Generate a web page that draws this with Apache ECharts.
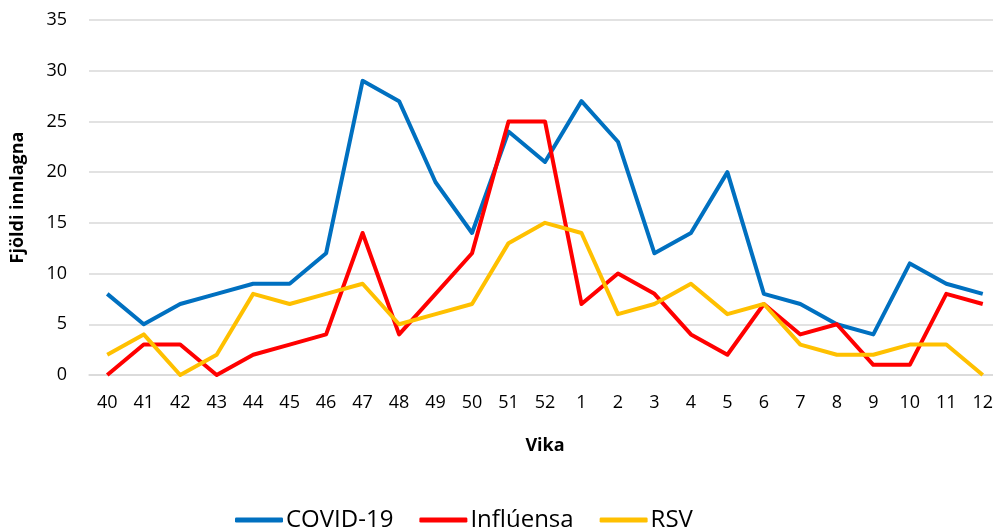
<!DOCTYPE html>
<html>
<head>
<meta charset="utf-8">
<script src="https://cdn.jsdelivr.net/npm/echarts@6/dist/echarts.min.js"></script>
<style>
  html, body { margin: 0; padding: 0; background: #fff; overflow: hidden; }
  #main { width: 1001px; height: 531px; }
</style>
</head>
<body>
<div id="main"></div>
<script>
  var weeks = ['40','41','42','43','44','45','46','47','48','49','50','51','52','1','2','3','4','5','6','7','8','9','10','11','12'];
  var covid = [8,5,7,8,9,9,12,29,27,19,14,24,21,27,23,12,14,20,8,7,5,4,11,9,8];
  var influensa = [0,3,3,0,2,3,4,14,4,8,12,25,25,7,10,8,4,2,7,4,5,1,1,8,7];
  var rsv = [2,4,0,2,8,7,8,9,5,6,7,13,15,14,6,7,9,6,7,3,2,2,3,3,0];

  var font = 'Open Sans';
  var myChart = echarts.init(document.getElementById('main'));

  function line(name, data, color) {
    return {
      name: name,
      type: 'line',
      data: data,
      symbol: 'none',
      lineStyle: { width: 4, color: color, join: 'round' },
      itemStyle: { color: color },
      animation: false
    };
  }

  myChart.setOption({
    grid: { left: 89, right: 0, top: 20, bottom: 156 },
    legend: {
      top: 503,
      left: 230,
      itemWidth: 48,
      itemHeight: 5,
      itemGap: 26,
      icon: 'roundRect',
      textStyle: { fontFamily: font, fontSize: 24, color: '#000', padding: [0, 0, 0, -2] },
      data: ['COVID-19', 'Inflúensa', 'RSV']
    },
    xAxis: {
      type: 'category',
      data: weeks,
      boundaryGap: true,
      name: 'Vika',
      nameLocation: 'middle',
      nameGap: 62,
      nameTextStyle: { fontFamily: font, fontSize: 18, fontWeight: 'bold', color: '#000' },
      axisLine: { lineStyle: { color: '#d9d9d9', width: 1.5 } },
      axisTick: { show: false },
      axisLabel: { fontFamily: font, fontSize: 18, color: '#000', margin: 19 }
    },
    yAxis: {
      type: 'value',
      min: 0,
      max: 35,
      interval: 5,
      name: 'Fjöldi innlagna',
      nameLocation: 'middle',
      nameGap: 62,
      nameRotate: 90,
      nameTextStyle: { fontFamily: font, fontSize: 18, fontWeight: 'bold', color: '#000' },
      axisLine: { show: false },
      axisTick: { show: false },
      axisLabel: { fontFamily: font, fontSize: 18, color: '#000', margin: 22 },
      splitLine: { lineStyle: { color: '#d9d9d9', width: 1.5 } }
    },
    series: [
      line('COVID-19', covid, '#0070C0'),
      line('Inflúensa', influensa, '#FF0000'),
      line('RSV', rsv, '#FFC000')
    ]
  });
</script>
</body>
</html>
